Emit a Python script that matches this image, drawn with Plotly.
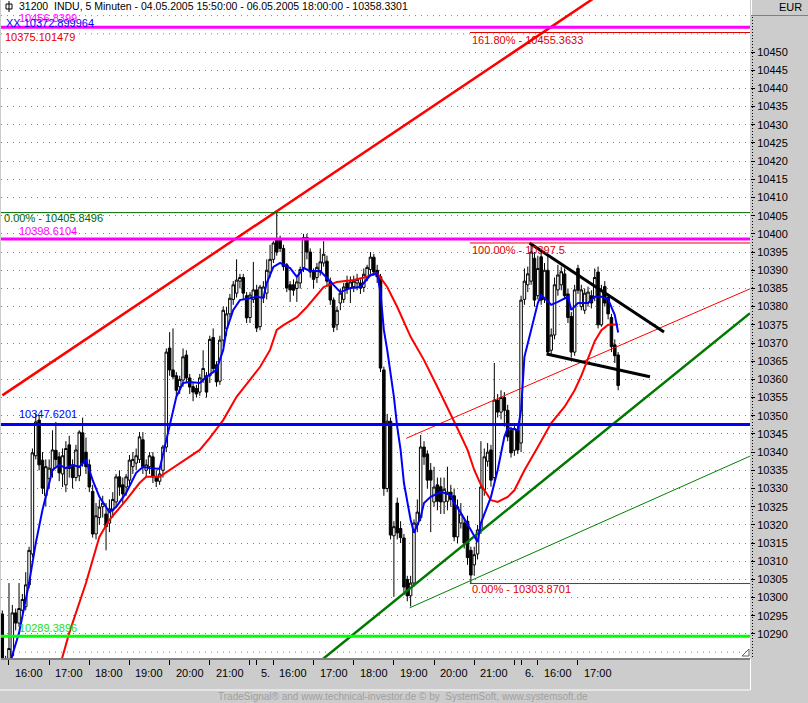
import plotly.graph_objects as go

# ---------------------------------------------------------------- data
# 5-minute bars, 04.05.2005 15:50 .. 06.05.2005 18:00 (bar index 0..184)
bar_open = [
    10295.5, 10281.0, 10282.0, 10284.0, 10295.8, 10293.0, 10296.5, 10297.5, 10303.5, 10312.0,
    10339.0, 10348.8, 10337.8, 10328.0, 10332.7, 10335.0, 10340.5, 10338.7, 10334.0, 10331.0,
    10342.0, 10336.0, 10333.0, 10333.5, 10345.3, 10340.0, 10336.5, 10329.2, 10317.5, 10322.0,
    10325.0, 10323.0, 10320.5, 10324.0, 10326.3, 10333.2, 10331.0, 10330.4, 10332.3, 10336.0,
    10337.0, 10338.0, 10343.4, 10335.0, 10336.0, 10338.7, 10333.0, 10332.0, 10335.0, 10341.4,
    10368.6, 10362.6, 10361.0, 10358.0, 10359.8, 10366.7, 10360.4, 10358.0, 10357.5, 10356.5,
    10360.0, 10361.0, 10361.0, 10371.5, 10364.0, 10359.5, 10370.8, 10374.0, 10378.0, 10382.0,
    10383.7, 10387.0, 10388.0, 10383.0, 10377.0, 10382.0, 10384.6, 10374.5, 10382.5, 10383.7,
    10389.5, 10393.0, 10398.3, 10398.5, 10396.0, 10391.5, 10386.0, 10386.0, 10385.0, 10386.5,
    10390.5, 10399.0, 10395.0, 10389.5, 10388.0, 10389.5, 10392.0, 10392.5, 10387.0, 10381.8,
    10375.0, 10381.0, 10382.0, 10386.5, 10385.0, 10385.5, 10386.5, 10386.5, 10385.3, 10388.2,
    10390.2, 10393.6, 10390.0, 10388.2, 10362.6, 10330.0, 10348.5, 10317.0, 10326.0, 10319.0,
    10316.4, 10305.0, 10300.5, 10304.0, 10320.0, 10322.0, 10341.4, 10339.5, 10335.0, 10326.3,
    10331.0, 10330.5, 10326.3, 10326.5, 10329.0, 10328.0, 10316.7, 10320.5, 10320.5, 10321.0,
    10313.0, 10309.0, 10312.0, 10318.6, 10329.6, 10337.5, 10340.6, 10333.0, 10354.3, 10351.0,
    10355.0, 10351.5, 10346.0, 10340.5, 10346.0, 10342.5, 10382.0, 10386.0, 10387.0, 10393.3,
    10383.0, 10393.7, 10382.0, 10390.0, 10368.0, 10372.2, 10384.6, 10386.0, 10389.0, 10383.5,
    10377.3, 10367.5, 10390.5, 10380.0, 10379.0, 10381.0, 10383.0, 10382.7, 10389.5, 10375.0,
    10385.5, 10382.5, 10377.0, 10369.5, 10366.7,
]
bar_high = [
    10296.5, 10284.0, 10304.0, 10298.0, 10297.0, 10304.0, 10301.0, 10307.0, 10314.0, 10341.0,
    10350.5, 10350.2, 10340.0, 10338.0, 10338.0, 10346.0, 10348.3, 10340.0, 10341.0, 10343.0,
    10344.5, 10338.0, 10342.0, 10346.0, 10349.5, 10344.0, 10338.0, 10331.0, 10326.0, 10327.0,
    10328.0, 10326.0, 10327.0, 10329.0, 10334.0, 10335.0, 10333.0, 10334.0, 10339.2, 10340.0,
    10341.0, 10345.5, 10345.5, 10338.0, 10340.0, 10340.0, 10335.0, 10336.0, 10342.0, 10368.5,
    10373.0, 10374.0, 10362.0, 10361.0, 10368.5, 10368.0, 10361.5, 10359.0, 10358.5, 10361.5,
    10368.0, 10362.0, 10372.0, 10374.0, 10365.0, 10372.0, 10380.0, 10380.0, 10383.5, 10387.0,
    10393.0, 10389.0, 10389.0, 10384.0, 10384.0, 10392.3, 10386.0, 10386.0, 10387.0, 10393.0,
    10397.0, 10398.0, 10405.85, 10399.5, 10397.0, 10392.0, 10387.0, 10387.5, 10388.0, 10391.0,
    10400.0, 10400.0, 10396.0, 10390.5, 10392.0, 10396.0, 10398.0, 10394.0, 10388.0, 10382.5,
    10380.0, 10385.0, 10386.5, 10388.5, 10388.3, 10388.5, 10389.0, 10387.5, 10390.5, 10391.5,
    10395.0, 10394.5, 10391.5, 10389.0, 10363.5, 10350.5, 10349.5, 10321.0, 10327.5, 10321.0,
    10317.5, 10306.0, 10306.0, 10321.5, 10327.0, 10344.7, 10343.0, 10340.5, 10337.0, 10336.0,
    10333.0, 10333.0, 10333.0, 10336.0, 10331.0, 10330.0, 10327.0, 10326.0, 10322.0, 10322.5,
    10314.0, 10314.0, 10320.0, 10343.0, 10341.0, 10342.5, 10342.0, 10364.5, 10356.0, 10357.0,
    10356.5, 10353.0, 10347.0, 10348.0, 10347.5, 10383.0, 10390.5, 10391.0, 10397.5, 10395.0,
    10394.0, 10395.0, 10392.0, 10394.0, 10374.0, 10388.0, 10391.5, 10391.0, 10390.5, 10385.0,
    10378.5, 10386.0, 10391.5, 10386.0, 10385.0, 10385.5, 10384.5, 10390.5, 10391.0, 10386.0,
    10387.0, 10383.5, 10378.0, 10371.0, 10367.5,
]
bar_low = [
    10280.0, 10280.0, 10281.0, 10283.5, 10291.0, 10292.0, 10295.5, 10296.5, 10302.5, 10311.0,
    10338.0, 10335.0, 10328.5, 10325.0, 10330.0, 10333.0, 10336.0, 10332.0, 10330.4, 10329.0,
    10333.0, 10330.0, 10332.0, 10332.0, 10336.0, 10334.0, 10329.0, 10316.5, 10316.0, 10320.0,
    10322.0, 10313.0, 10318.0, 10322.0, 10325.0, 10328.0, 10326.0, 10328.0, 10331.0, 10334.0,
    10335.0, 10337.0, 10334.0, 10333.0, 10334.0, 10331.5, 10330.4, 10331.0, 10333.0, 10340.0,
    10361.0, 10360.0, 10355.0, 10356.0, 10358.0, 10359.0, 10356.0, 10354.0, 10355.0, 10355.5,
    10359.0, 10355.0, 10359.0, 10362.0, 10358.0, 10358.5, 10369.0, 10372.0, 10377.0, 10380.5,
    10382.5, 10385.0, 10382.0, 10375.5, 10375.5, 10381.0, 10373.0, 10373.5, 10381.0, 10382.0,
    10388.0, 10392.0, 10394.0, 10395.0, 10390.0, 10384.0, 10381.3, 10383.0, 10381.3, 10385.0,
    10389.5, 10393.0, 10388.0, 10385.0, 10386.5, 10388.5, 10391.0, 10385.5, 10380.5, 10373.0,
    10373.5, 10379.0, 10381.0, 10383.5, 10381.0, 10384.0, 10384.5, 10383.5, 10384.0, 10387.0,
    10389.0, 10388.5, 10386.5, 10362.0, 10328.0, 10329.0, 10316.0, 10300.2, 10316.0, 10315.0,
    10300.7, 10299.0, 10297.6, 10303.0, 10318.0, 10321.0, 10336.5, 10330.0, 10318.0, 10325.0,
    10324.0, 10323.0, 10323.0, 10324.0, 10325.0, 10315.5, 10315.0, 10319.0, 10313.5, 10309.0,
    10303.87, 10306.0, 10310.5, 10317.5, 10328.0, 10336.0, 10330.5, 10332.0, 10349.5, 10349.0,
    10347.0, 10343.0, 10338.5, 10339.0, 10339.5, 10340.0, 10380.5, 10384.0, 10386.0, 10380.0,
    10382.0, 10380.5, 10381.0, 10367.0, 10366.5, 10371.0, 10383.0, 10384.5, 10382.0, 10375.5,
    10366.0, 10366.5, 10383.5, 10379.0, 10378.0, 10380.0, 10379.5, 10381.5, 10374.0, 10374.5,
    10380.0, 10376.5, 10367.5, 10364.5, 10357.0,
]
bar_close = [
    10281.0, 10283.0, 10286.0, 10295.8, 10293.0, 10297.0, 10299.5, 10303.5, 10313.0, 10339.8,
    10348.3, 10336.5, 10330.1, 10336.0, 10335.6, 10340.6, 10338.0, 10334.3, 10339.0, 10341.0,
    10335.5, 10333.0, 10340.6, 10345.5, 10337.0, 10336.0, 10330.4, 10317.5, 10322.5, 10324.9,
    10326.0, 10319.5, 10324.4, 10327.0, 10333.2, 10330.4, 10328.5, 10333.2, 10337.8, 10338.0,
    10339.0, 10344.2, 10336.0, 10336.5, 10339.0, 10333.2, 10332.0, 10334.0, 10341.4, 10367.5,
    10362.6, 10360.7, 10357.0, 10360.0, 10366.2, 10360.4, 10357.9, 10356.5, 10356.0, 10360.4,
    10363.0, 10356.5, 10371.0, 10363.0, 10359.3, 10370.8, 10379.0, 10378.0, 10382.3, 10386.0,
    10387.3, 10388.0, 10383.7, 10376.9, 10383.2, 10384.6, 10374.1, 10385.4, 10385.4, 10390.0,
    10393.0, 10397.5, 10395.0, 10396.0, 10391.0, 10385.1, 10384.6, 10384.5, 10386.8, 10390.2,
    10399.0, 10395.0, 10389.5, 10387.5, 10390.8, 10392.3, 10394.4, 10387.0, 10381.8, 10374.3,
    10379.0, 10383.7, 10385.4, 10385.0, 10386.8, 10387.0, 10387.5, 10385.1, 10388.9, 10390.8,
    10393.6, 10389.5, 10388.2, 10363.1, 10330.0, 10348.5, 10317.2, 10319.5, 10317.8, 10316.5,
    10302.9, 10300.5, 10304.0, 10320.5, 10323.5, 10341.4, 10338.7, 10332.3, 10332.3, 10330.4,
    10326.5, 10326.3, 10329.8, 10329.0, 10327.0, 10316.7, 10325.0, 10323.0, 10315.0, 10311.0,
    10306.2, 10311.8, 10318.6, 10330.4, 10338.7, 10340.0, 10332.3, 10354.3, 10351.0, 10355.0,
    10351.5, 10344.2, 10339.8, 10346.5, 10340.6, 10381.8, 10387.0, 10389.0, 10395.0, 10381.8,
    10390.5, 10381.8, 10390.0, 10367.5, 10372.2, 10386.0, 10388.7, 10389.6, 10383.0, 10377.0,
    10367.5, 10384.6, 10384.5, 10384.6, 10383.7, 10384.0, 10381.0, 10388.0, 10375.0, 10384.5,
    10381.0, 10378.0, 10369.0, 10366.5, 10358.33,
]

# moving averages as drawn (fast = blue, slow = red), read at these bars
fast_ma_bar = [0, 2, 3, 5, 8, 10, 12, 15, 17, 19, 21, 23, 25, 27, 29, 32, 34, 37, 40, 42,
               44, 47, 49, 51, 52, 54, 56, 59, 61, 64, 66, 67, 69, 71, 74, 76, 78, 79, 81, 83,
               86, 88, 90, 92, 95, 98, 101, 104, 107, 110, 112, 113, 114, 115, 117, 118, 119, 120, 122, 123,
               125, 126, 128, 131, 134, 135, 137, 140, 142, 143, 146, 148, 150, 151, 154, 155, 156, 158, 160, 161,
               163, 164, 166, 169, 170, 172, 175, 177, 179, 181, 183, 184]
fast_ma = [10276.0, 10281.0, 10284.2, 10290.3, 10304.0, 10315.0, 10324.1, 10335.1, 10336.5, 10335.6,
           10336.5, 10335.9, 10337.8, 10332.3, 10327.7, 10323.5, 10324.9, 10328.8, 10334.3, 10335.9,
           10335.6, 10335.4, 10343.3, 10350.8, 10355.2, 10359.0, 10359.3, 10359.0, 10360.7, 10362.6,
           10368.1, 10373.6, 10379.1, 10381.8, 10382.4, 10382.7, 10382.4, 10386.5, 10390.9, 10392.0,
           10390.6, 10388.2, 10390.6, 10389.8, 10389.8, 10386.8, 10384.0, 10385.1, 10385.4, 10388.7,
           10389.2, 10383.7, 10373.6, 10368.1, 10355.2, 10346.9, 10340.6, 10331.5, 10321.4, 10317.8,
           10322.2, 10326.0, 10327.7, 10329.1, 10328.2, 10326.0, 10323.3, 10318.6, 10315.3, 10320.5,
           10327.7, 10335.1, 10344.2, 10346.6, 10346.1, 10351.6, 10366.2, 10373.6, 10381.0, 10383.2,
           10381.3, 10380.5, 10381.3, 10382.7, 10379.1, 10381.0, 10381.0, 10382.7, 10382.7, 10382.0,
           10377.7, 10372.9]
slow_ma_bar = [15, 18, 20, 25, 29, 32, 37, 41, 43, 47, 53, 59, 62, 66, 70, 74, 77, 80, 82, 84,
               88, 91, 93, 96, 100, 105, 109, 112, 115, 118, 122, 126, 130, 133, 136, 139, 141, 143, 146, 148,
               151, 153, 156, 160, 164, 168, 171, 173, 175, 177, 179, 181, 184]
slow_ma = [10274.0, 10283.7, 10290.3, 10304.0, 10316.7, 10321.4, 10326.8, 10331.5, 10333.2, 10333.2,
           10337.0, 10340.6, 10343.9, 10348.8, 10355.2, 10359.8, 10363.4, 10368.1, 10373.6, 10374.9,
           10377.1, 10379.9, 10382.0, 10385.4, 10386.8, 10387.3, 10388.2, 10389.2, 10385.4, 10379.9,
           10371.7, 10365.3, 10357.9, 10352.4, 10346.5, 10340.6, 10335.1, 10331.0, 10326.8, 10326.3,
           10327.7, 10329.5, 10335.0, 10341.4, 10348.0, 10352.5, 10357.0, 10361.0, 10366.0, 10370.5,
           10373.5, 10375.0, 10375.1]

# drawn trendlines: (bar, price) end points
red_channel_bar, red_channel = [0, 180], [10355.6, 10466.8]
red_thin_bar, red_thin = [120.7, 223.4], [10343.8, 10384.9]
green_thick_bar, green_thick = [94, 223.4], [10281.8, 10378.2]
green_thin_bar, green_thin = [121.7, 223.4], [10297.2, 10338.9]
wedge_top_bar, wedge_top = [157.5, 197.7], [10397.5, 10373.0]
wedge_low_bar, wedge_low = [162.6, 193.5], [10367.0, 10360.7]

# horizontal levels
level_magenta_top = 10456.8399
level_high = 10405.8496
level_magenta = 10398.6104
level_blue = 10347.6201
level_green = 10289.3896
fib_start_bar = 139.7
fib_levels = [10455.3633, 10397.5, 10303.8701]
fib_labels = ["161.80% - 10455.3633", "100.00% - 10397.5", "0.00% - 10303.8701"]

# time axis
tick_bars = [2, 14, 26, 38, 50, 62, 74, 76, 81, 93, 105, 117, 129, 141, 153, 155, 160, 172]
tick_labels = ["16:00", "17:00", "18:00", "19:00", "20:00", "21:00", "", "5.",
               "16:00", "17:00", "18:00", "19:00", "20:00", "21:00", "", "6.", "16:00", "17:00"]
price_ticks = list(range(10290, 10451, 5))

# ---------------------------------------------------------------- layout
W, H = 808, 703
ML, MR, MT, MB = 1, 58, 0, 45
PW, PH = W - ML - MR, H - MT - MB
BAR0_PX, BAR_PX = 2.3, 3.347
x_range = [(ML - BAR0_PX) / BAR_PX, (W - MR - BAR0_PX) / BAR_PX]
y_range = [10283.4, 10464.3]

FONT = "Liberation Sans, Arial, sans-serif"
GRAY = "#cccccc"


def px(x):
    return (x - ML) / PW


def py(y):
    return 1 - (y - MT) / PH


fig = go.Figure()

fig.add_trace(go.Candlestick(
    x=list(range(len(bar_open))), open=bar_open, high=bar_high, low=bar_low, close=bar_close,
    increasing=dict(line=dict(color="black", width=1), fillcolor="white"),
    decreasing=dict(line=dict(color="black", width=1), fillcolor="black"),
    whiskerwidth=0, hoverinfo="skip",
))

line_specs = [
    (red_channel_bar, red_channel, "#ff0000", 2.5),
    (red_thin_bar, red_thin, "#ff0000", 1),
    (green_thick_bar, green_thick, "#007800", 2.5),
    (green_thin_bar, green_thin, "#008000", 1),
    (wedge_top_bar, wedge_top, "black", 3),
    (wedge_low_bar, wedge_low, "black", 3),
    (slow_ma_bar, slow_ma, "#ff0000", 2),
    (fast_ma_bar, fast_ma, "#0000ff", 2),
]
for xs, ys, color, width in line_specs:
    fig.add_trace(go.Scatter(x=xs, y=ys, mode="lines", hoverinfo="skip",
                             line=dict(color=color, width=width)))

# extra dotted grid rows outside the labelled ticks
for v in [10285, 10455, 10460]:
    fig.add_shape(type="line", xref="paper", x0=0, x1=1, y0=v, y1=v, layer="below",
                  line=dict(color="#808080", width=1, dash="1px,5px"))

# full-width levels
for v, color, width in [(level_high, "#006600", 1), (level_magenta_top, "#ff00ff", 3),
                        (level_magenta, "#ff00ff", 3), (level_blue, "#0000ff", 3),
                        (level_green, "#00ff00", 3)]:
    fig.add_shape(type="line", xref="paper", x0=0, x1=1, y0=v, y1=v,
                  line=dict(color=color, width=width))

# fibonacci levels
for v in fib_levels:
    fig.add_shape(type="line", x0=fib_start_bar, x1=x_range[1], y0=v, y1=v,
                  line=dict(color="#e00000", width=1))

# value labels
labels = [
    (17, 18, "10456.8399", "#ff00ff"),
    (4, 23, "XX 10372.899964", "#0000ff"),
    (3, 37, "10375.101479", "#e00000"),
    (470, 40, fib_labels[0], "#e00000"),
    (2, 218, "0.00% - 10405.8496", "#006600"),
    (17, 231, "10398.6104", "#ff00ff"),
    (470, 250, fib_labels[1], "#e00000"),
    (17, 414, "10347.6201", "#0000ff"),
    (470, 589, fib_labels[2], "#e00000"),
    (17, 628, "10289.3896", "#22dd22"),
]
for x, y, text, color in labels:
    fig.add_annotation(xref="paper", yref="paper", x=px(x), y=py(y), text=text,
                       showarrow=False, xanchor="left", yanchor="middle",
                       font=dict(family=FONT, size=11, color=color))

# title line with small icon
fig.add_annotation(xref="paper", yref="paper", x=px(17), y=py(6),
                   text="31200\u00a0\u00a0INDU, 5 Minuten - 04.05.2005 15:50:00 - 06.05.2005 18:00:00 - 10358.3301",
                   showarrow=False, xanchor="left", yanchor="middle",
                   font=dict(family=FONT, size=10.5, color="black"))
fig.add_shape(type="rect", xref="paper", yref="paper", x0=px(6), x1=px(12), y0=py(9), y1=py(4),
              line=dict(color="black", width=1))
fig.add_shape(type="line", xref="paper", yref="paper", x0=px(9), x1=px(9), y0=py(12), y1=py(1),
              line=dict(color="black", width=1))

# time labels (to the right of their tick marks)
for b, lab in zip(tick_bars, tick_labels):
    if lab:
        fig.add_annotation(xref="x", yref="paper", x=b, y=py(673), text=lab, showarrow=False,
                           xanchor="left", yanchor="middle", xshift=4 if ":" in lab else 2,
                           font=dict(family=FONT, size=11, color="black"))

# right price panel: dotted axis line and EUR header
fig.add_shape(type="line", xref="paper", yref="paper", x0=px(752.5), x1=px(752.5), y0=py(17), y1=py(658),
              line=dict(color="black", width=1, dash="1px,2px"))
fig.add_shape(type="rect", xref="paper", yref="paper", x0=px(751), x1=px(808), y0=py(15), y1=py(0),
              fillcolor=GRAY, line=dict(width=0))
fig.add_shape(type="line", xref="paper", yref="paper", x0=px(751), x1=px(808), y0=py(15.5), y1=py(15.5),
              line=dict(color="#808080", width=1))
fig.add_shape(type="line", xref="paper", yref="paper", x0=px(751.5), x1=px(751.5), y0=py(0), y1=py(15),
              line=dict(color="white", width=1))
fig.add_annotation(xref="paper", yref="paper", x=px(804), y=py(7.5), text="EUR", showarrow=False,
                   xanchor="right", yanchor="middle", font=dict(family=FONT, size=11, color="black"))

# bottom panel bevel and small resize mark
fig.add_shape(type="line", xref="paper", yref="paper", x0=px(0), x1=px(750), y0=py(690), y1=py(690),
              line=dict(color="white", width=1))
fig.add_shape(type="line", xref="paper", yref="paper", x0=px(750.5), x1=px(750.5), y0=py(659), y1=py(690),
              line=dict(color="white", width=1))
fig.add_shape(type="path", xref="paper", yref="paper",
              path=f"M {px(742)} {py(656)} L {px(749)} {py(656)} L {px(749)} {py(649)} Z",
              line=dict(color="#606060", width=1), fillcolor="white")

fig.add_annotation(xref="paper", yref="paper", x=px(403), y=py(696),
                   text="TradeSignal\u00ae and www.technical-investor.de \u00a9 by  SystemSoft, www.systemsoft.de",
                   showarrow=False, xanchor="center", yanchor="middle",
                   font=dict(family="Liberation Sans Narrow, Arial Narrow, " + FONT, size=10, color="#a0a0a0"))

fig.update_layout(
    width=W, height=H,
    margin=dict(l=ML, r=MR, t=MT, b=MB, pad=0),
    paper_bgcolor=GRAY, plot_bgcolor="white",
    showlegend=False, boxgap=0.25, boxgroupgap=0,
    font=dict(family=FONT, size=11, color="black"),
)
fig.update_xaxes(
    range=x_range, rangeslider_visible=False, showgrid=False, zeroline=False,
    tickvals=tick_bars, ticktext=[""] * len(tick_bars),
    ticks="outside", ticklen=5, tickcolor="black", tickwidth=1,
    showline=True, linecolor="#808080", linewidth=2,
)
fig.update_yaxes(
    range=y_range, side="right", zeroline=False,
    tickvals=price_ticks, ticktext=[str(v) for v in price_ticks],
    ticks="outside", ticklen=4, tickcolor="black", tickwidth=1,
    tickfont=dict(family=FONT, size=11, color="black"),
    showgrid=True, gridcolor="#808080", gridwidth=1, griddash="1px,5px",
    showline=False,
)

# the page's default body margin would shift the figure; remove it
fig.write_html("out.html", config={"displayModeBar": False},
               post_script="document.body.style.margin='0px';document.body.style.overflow='hidden';")
